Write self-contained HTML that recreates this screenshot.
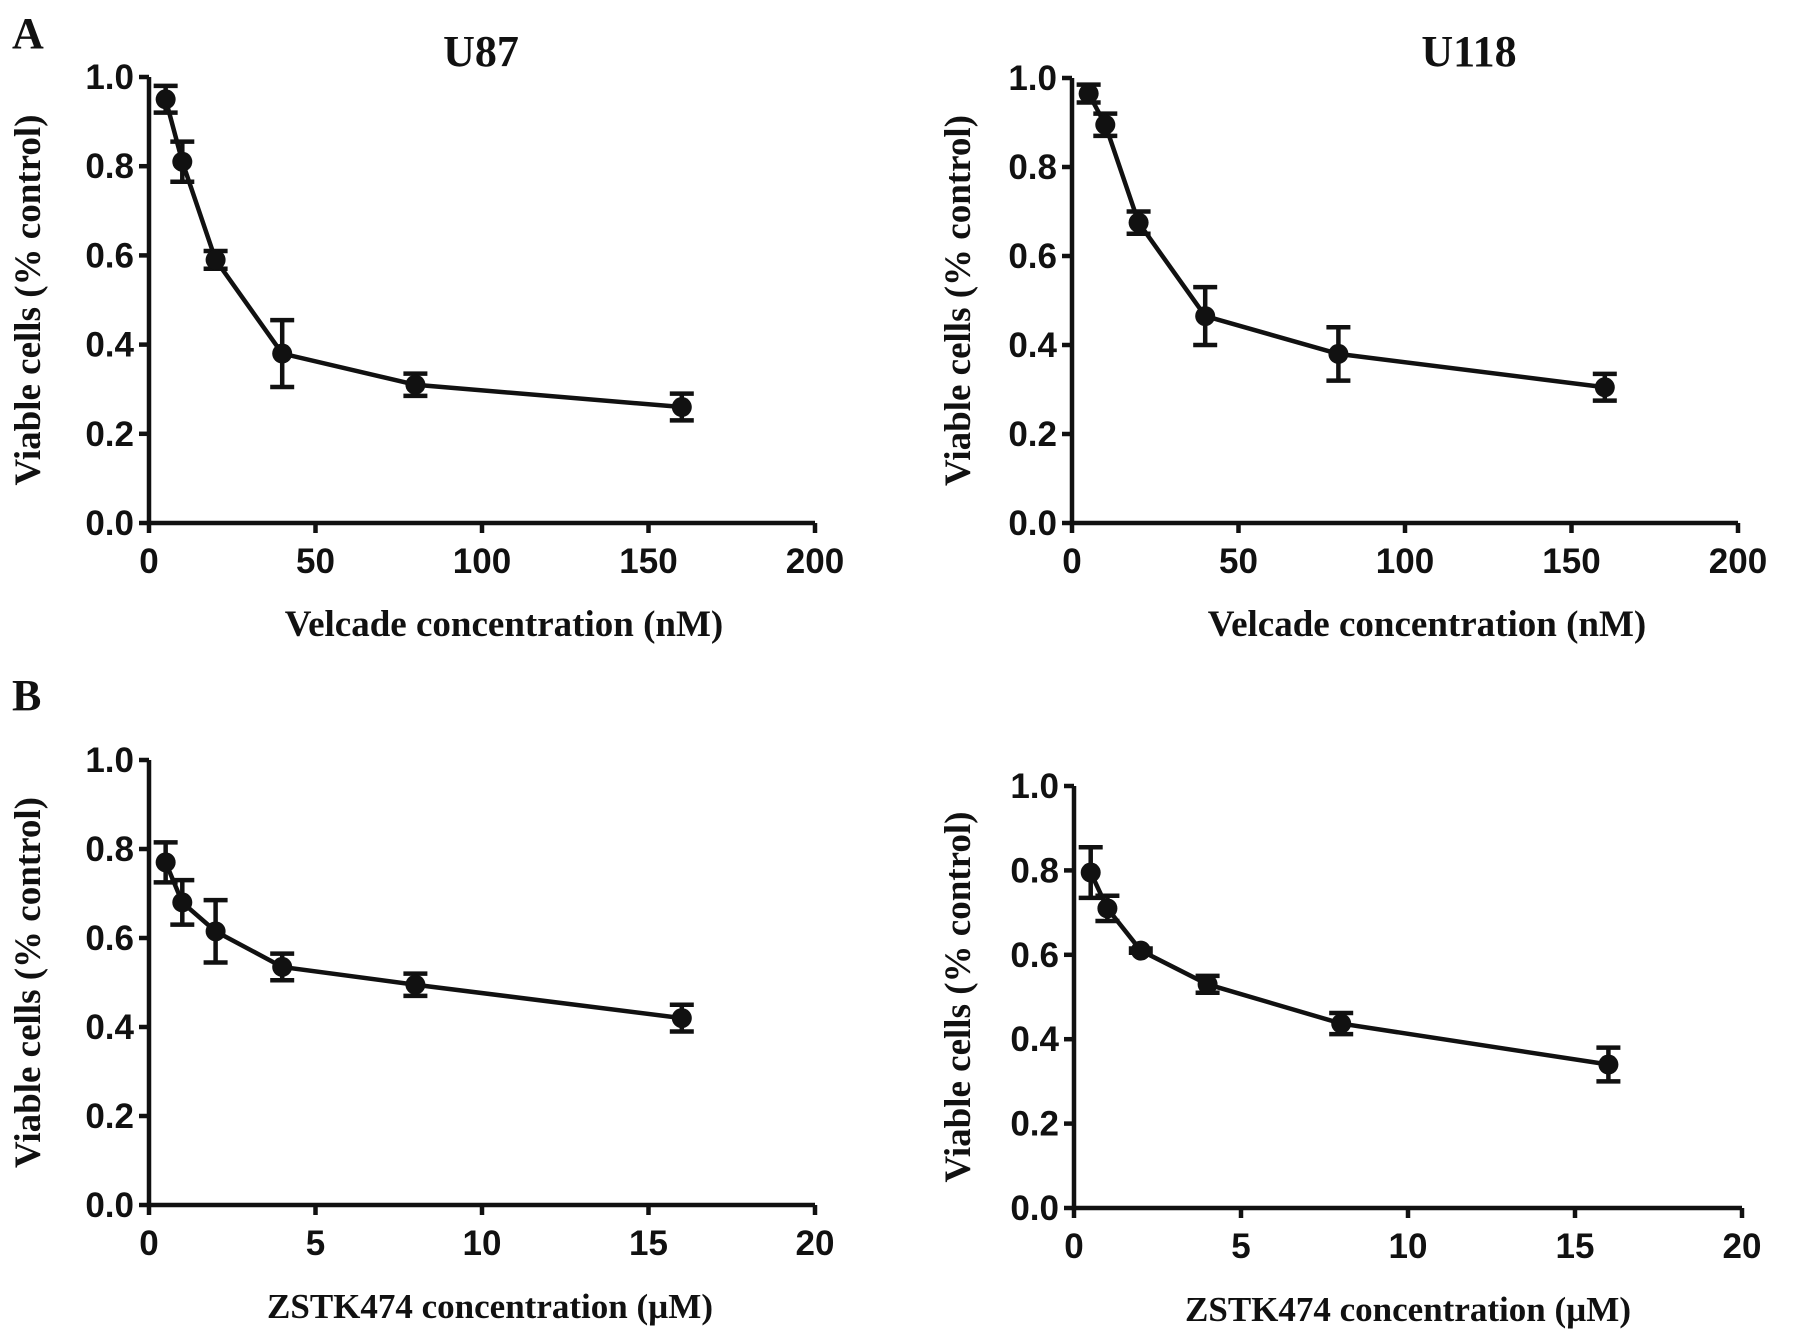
<!DOCTYPE html>
<html><head><meta charset="utf-8"><style>
html,body{margin:0;padding:0;background:#fff;}
svg{display:block;}
.tk{font-family:"Liberation Sans",Arial,sans-serif;font-weight:bold;font-size:35px;fill:#111;}
.ti{font-family:"Liberation Serif",serif;font-weight:bold;font-size:37px;fill:#111;}
.hd{font-family:"Liberation Serif",serif;font-weight:bold;font-size:44px;fill:#111;}
</style></head><body>
<svg id="fig" width="1795" height="1339" viewBox="0 0 1795 1339" xmlns="http://www.w3.org/2000/svg">
<text class="hd" x="12" y="48">A</text>
<text class="hd" x="12" y="710">B</text>
<text class="hd" x="481" y="66" text-anchor="middle">U87</text>
<text class="hd" x="1469" y="66" text-anchor="middle">U118</text>
</svg>
<script>
const velcadeDoses = [5, 10, 20, 40, 80, 160];
const zstkDoses = [0.5, 1, 2, 4, 8, 16];
const u87VelcadeMeans = [0.95, 0.81, 0.59, 0.38, 0.31, 0.26];
const u87VelcadeErr = [0.03, 0.045, 0.02, 0.075, 0.025, 0.03];
const u118VelcadeMeans = [0.965, 0.895, 0.675, 0.465, 0.38, 0.305];
const u118VelcadeErr = [0.02, 0.025, 0.025, 0.065, 0.06, 0.03];
const u87ZstkMeans = [0.77, 0.68, 0.615, 0.535, 0.495, 0.42];
const u87ZstkErr = [0.045, 0.05, 0.07, 0.03, 0.025, 0.03];
const u118ZstkMeans = [0.795, 0.71, 0.61, 0.53, 0.437, 0.34];
const u118ZstkErr = [0.06, 0.03, 0.005, 0.02, 0.025, 0.04];
const yTicks = [0, 0.2, 0.4, 0.6, 0.8, 1.0];
const velcadeTicks = [0, 50, 100, 150, 200];
const zstkTicks = [0, 5, 10, 15, 20];

const NS = "http://www.w3.org/2000/svg";
const svg = document.getElementById('fig');
function mk(tag, attrs, parent){
  const e = document.createElementNS(NS, tag);
  for (const k in attrs) e.setAttribute(k, attrs[k]);
  (parent||svg).appendChild(e);
  return e;
}
function panel(id, box, xs, ys, es, xt, xmax, xtitle, ytitleX, xtOff, xtSize){
  const g = mk('g', {});
  
  
  const X = v => box.x0 + (box.x1 - box.x0) * v / xmax;
  const Y = v => box.y0 + (box.y1 - box.y0) * v;
  const ax = mk('path', {d:`M${box.x0},${Y(1)} V${box.y0} H${box.x1}`, fill:'none', stroke:'#111', 'stroke-width':4.5}, g);
  
  
  yTicks.forEach(t => {
    mk('line', {x1:box.x0-10, x2:box.x0, y1:Y(t), y2:Y(t), stroke:'#111', 'stroke-width':4.5}, g);
    const tx = mk('text', {x:box.x0-15, y:Y(t)+12, 'text-anchor':'end', class:'tk'}, g);
    tx.textContent = t.toFixed(1);
    
    
  });
  xt.forEach(t => {
    mk('line', {x1:X(t), x2:X(t), y1:box.y0, y2:box.y0+10, stroke:'#111', 'stroke-width':4.5}, g);
    const tx = mk('text', {x:X(t), y:box.y0+50, 'text-anchor':'middle', class:'tk'}, g);
    tx.textContent = String(t);
    
    
  });
  const xtl = mk('text', {x:(box.x0+box.x1)/2 + xtOff, y:box.y0+113, 'text-anchor':'middle', class:'ti', style:'font-size:'+xtSize+'px'}, g);
  xtl.textContent = xtitle;
  
  
  const cy = (Y(1)+box.y0)/2;
  const ytl = mk('text', {x:ytitleX, y:cy, 'text-anchor':'middle', class:'ti', transform:`rotate(-90 ${ytitleX} ${cy})`}, g);
  ytl.textContent = 'Viable cells (% control)';
  
  
  const line = mk('polyline', {points: xs.map((x,i)=>X(x)+','+Y(ys[i])).join(' '), fill:'none', stroke:'#111', 'stroke-width':4.5}, g);
  
  
  xs.forEach((x,i) => {
    const px = X(x), hi = Y(ys[i]+es[i]), lo = Y(ys[i]-es[i]);
    const eb = mk('path', {d:`M${px},${hi} V${lo} M${px-12},${hi} H${px+12} M${px-12},${lo} H${px+12}`, stroke:'#111', 'stroke-width':4.5, fill:'none'}, g);
    
    
    const c = mk('circle', {cx:px, cy:Y(ys[i]), r:10, fill:'#111'}, g);
    
    
  });
}
panel('u87-velcade', {x0:149, x1:815, y0:523, y1:77}, velcadeDoses, u87VelcadeMeans, u87VelcadeErr, velcadeTicks, 200, 'Velcade concentration (nM)', 40, 22, 37);
panel('u118-velcade', {x0:1072, x1:1738, y0:523, y1:78}, velcadeDoses, u118VelcadeMeans, u118VelcadeErr, velcadeTicks, 200, 'Velcade concentration (nM)', 970, 22, 37);
panel('u87-zstk', {x0:149, x1:815, y0:1205, y1:760}, zstkDoses, u87ZstkMeans, u87ZstkErr, zstkTicks, 20, 'ZSTK474 concentration (\u00b5M)', 40, 8, 35);
panel('u118-zstk', {x0:1074, x1:1742, y0:1208, y1:786}, zstkDoses, u118ZstkMeans, u118ZstkErr, zstkTicks, 20, 'ZSTK474 concentration (\u00b5M)', 970, 0, 35);
</script>
</body></html>
